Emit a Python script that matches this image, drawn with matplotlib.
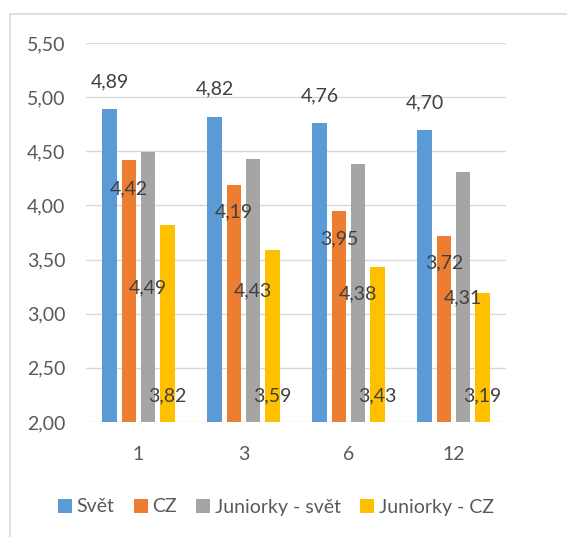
import numpy as np
import matplotlib.pyplot as plt
from matplotlib.patches import Rectangle

# data
categories = ["1", "3", "6", "12"]
series_names = ["Svět", "CZ", "Juniorky - svět", "Juniorky - CZ"]
svet = [4.89, 4.82, 4.76, 4.70]
cz = [4.42, 4.19, 3.95, 3.72]
jun_svet = [4.49, 4.43, 4.38, 4.31]
jun_cz = [3.82, 3.59, 3.43, 3.19]
colors = ["#5B9BD5", "#ED7D31", "#A5A5A5", "#FFC000"]

# where the data labels sit (as in the original, they are displaced)
label_y = [
    [5.14, 5.08, 5.01, 4.95],
    [4.15, 3.94, 3.69, 3.47],
    [3.24, 3.21, 3.18, 3.15],
    [2.24, 2.24, 2.24, 2.24],
]

plt.rcParams["font.family"] = ["Lato", "DejaVu Sans"]
fs = 14

fig = plt.figure(figsize=(5.67, 5.37), dpi=100)
ax = fig.add_axes([86 / 567, 1 - 422 / 537, 420 / 567, 379 / 537])

x = np.arange(len(categories))
step = 0.182
width = 0.14
all_series = [svet, cz, jun_svet, jun_cz]
for i, (vals, name, col) in enumerate(zip(all_series, series_names, colors)):
    pos = x + (i - 1.5) * step
    ax.bar(pos, vals, width=width, color=col, label=name, zorder=2)
    for px, v, ly in zip(pos, vals, label_y[i]):
        ax.text(px, ly, f"{v:.2f}".replace(".", ","), ha="center", va="center",
                fontsize=fs, color="#404040", zorder=3)

ax.set_ylim(2.0, 5.5)
ax.set_xlim(-0.5, len(categories) - 0.5)
ax.set_yticks(np.arange(2.0, 5.51, 0.5))
ax.set_yticklabels([f"{t:.2f}".replace(".", ",") for t in np.arange(2.0, 5.51, 0.5)])
ax.set_xticks(x)
ax.set_xticklabels(categories)
ax.tick_params(axis="both", length=0, labelsize=fs, colors="#595959")
ax.tick_params(axis="y", pad=15)
ax.tick_params(axis="x", pad=17)
ax.grid(axis="y", color="#D9D9D9", linewidth=1, zorder=0)
for s in ax.spines.values():
    s.set_visible(False)

fig.legend(loc="center", bbox_to_anchor=(276 / 567, 1 - 507 / 537), ncol=4,
           frameon=False, fontsize=fs, handlelength=0.7, handleheight=0.7,
           handletextpad=0.25, columnspacing=1.0, labelcolor="#595959")

# chart frame (runs off the right and bottom edges)
fig.patches.append(Rectangle((10 / 567, -0.05), 1.0, 1 - 14 / 537 + 0.05,
                             transform=fig.transFigure, fill=False,
                             edgecolor="#D9D9D9", linewidth=1.2))

plt.savefig("out.png", dpi=100)
